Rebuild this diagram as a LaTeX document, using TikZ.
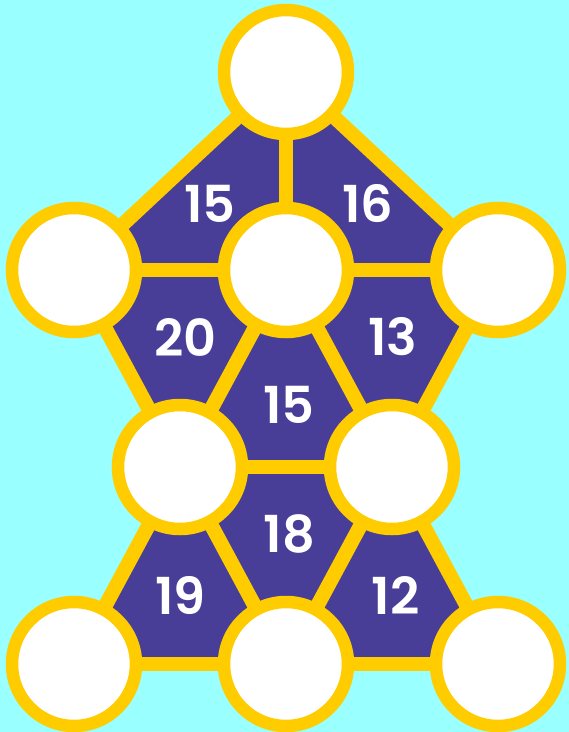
\documentclass[tikz,border=0pt]{standalone}
\usepackage{fontspec}
\newfontfamily\numfont{Poppins}[BoldFont={* SemiBold}]
\usetikzlibrary{positioning}
\definecolor{skycyan}{HTML}{99FFFF}
\definecolor{gold}{HTML}{FFCC00}
\definecolor{plum}{HTML}{483E97}
\tikzset{
  disc/.style={circle,draw=gold,fill=white,line width=12.5pt,minimum size=124pt,inner sep=0pt},
  link/.style={draw=gold,line width=14.5pt},
  sum/.style={text=white,font=\numfont\bfseries\fontsize{51}{51}\selectfont,inner sep=0pt}
}

\begin{document}
\begin{tikzpicture}[x=1pt,y=-1pt]
  \fill[skycyan] (0,0) rectangle (569,732);
  \useasboundingbox (0,0) rectangle (569,732);
  % circle centres
  \coordinate (T) at (286,72);
  \coordinate (L) at (74,270);
  \coordinate (C) at (286,270);
  \coordinate (R) at (498,270);
  \coordinate (LL) at (180,467);
  \coordinate (LR) at (392,467);
  \coordinate (BL) at (74,664);
  \coordinate (BM) at (286,664);
  \coordinate (BR) at (498,664);
  % faces
  \fill[plum] (T) -- (L) -- (LL) -- (BL) -- (BR) -- (LR) -- (R) -- cycle;
  % edges
  \foreach \a/\b in {T/L,T/C,T/R,L/C,C/R,L/LL,C/LL,C/LR,R/LR,LL/LR,LL/BL,LL/BM,LR/BM,LR/BR,BL/BM,BM/BR}
    \draw[link] (\a) -- (\b);
  % discs
  \foreach \p in {T,L,C,R,LL,LR,BL,BM,BR}
    \node[disc] (d\p) at (\p) {};
  % sums
  \node[sum] (s1) at (210,204) {15};
  \node[sum] (s2) at (368,204) {16};
  \node[sum] (s3) at (185.5,337) {20};
  \node[sum] (s4) at (393,337) {13};
  \node[sum] (s5) at (289,405) {15};
  \node[sum] (s6) at (289.5,534) {18};
  \node[sum] (s7) at (180.5,595.5) {19};
  \node[sum] (s8) at (395.5,595.5) {12};
\end{tikzpicture}
\end{document}
